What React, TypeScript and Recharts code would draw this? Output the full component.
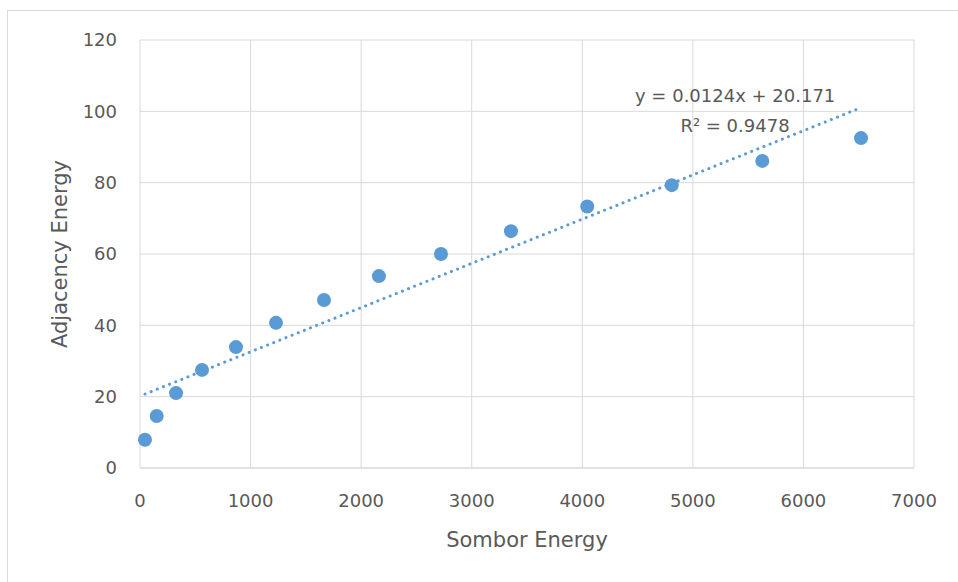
import React from "react";
import {
  ScatterChart,
  Scatter,
  XAxis,
  YAxis,
  CartesianGrid,
  Label,
} from "recharts";

const xValues = [45, 151, 326, 561, 868, 1230, 1664, 2161, 2722, 3355, 4045, 4809, 5628, 6521];
const yValues = [7.9, 14.6, 21.0, 27.5, 33.9, 40.7, 47.1, 53.8, 60.0, 66.4, 73.3, 79.3, 86.1, 92.5];
const xTicks = [0, 1000, 2000, 3000, 4000, 5000, 6000, 7000];
const yTicks = [0, 20, 40, 60, 80, 100, 120];
const slope = 0.0124;
const intercept = 20.171;
const equationText = "y = 0.0124x + 20.171";
const r2Text = "R² = 0.9478";
const xTitle = "Sombor Energy";
const yTitle = "Adjacency Energy";

const points = xValues.map((x, i) => ({ x, y: yValues[i] }));
const xMin = Math.min(...xValues);
const xMax = Math.max(...xValues);
const trend = [
  { x: xMin, y: slope * xMin + intercept },
  { x: xMax, y: slope * xMax + intercept },
];

const FONT = "'DejaVu Sans', sans-serif";
const TXT = "#595959";
const BLUE = "#5b9bd5";

const Dot = (props: any) => {
  const { cx, cy } = props;
  if (cx == null || cy == null) return null;
  return <circle cx={cx} cy={cy} r={7} fill={BLUE} />;
};

const XTitle = (props: any) => {
  const vb = props.viewBox || {};
  return (
    <text
      x={vb.x + vb.width / 2}
      y={vb.y + 79}
      textAnchor="middle"
      fill={TXT}
      fontSize={21}
      fontFamily={FONT}
    >
      {xTitle}
    </text>
  );
};

const YTitle = (props: any) => {
  const vb = props.viewBox || {};
  const cx = 60;
  const cy = vb.y + vb.height / 2;
  return (
    <text
      x={cx}
      y={cy}
      transform={`rotate(-90 ${cx} ${cy})`}
      textAnchor="middle"
      dominantBaseline="central"
      fill={TXT}
      fontSize={21}
      fontFamily={FONT}
    >
      {yTitle}
    </text>
  );
};

export default function App() {
  return (
    <div style={{ position: "absolute", left: 0, top: 0, width: 958, height: 582, background: "#fff" }}>
      <svg style={{ position: "absolute", left: 0, top: 0 }} width={958} height={582}>
        <rect x={7.5} y={10.5} width={1000} height={1000} fill="none" stroke="#d9d9d9" strokeWidth={1} />
      </svg>
      <div style={{ position: "absolute", left: 0, top: 0 }}>
        <ScatterChart
          width={958}
          height={582}
          margin={{ top: 40, right: 44, bottom: 54, left: 0 }}
          style={{ fontFamily: FONT }}
        >
          <CartesianGrid stroke="#d9d9d9" strokeWidth={1} />
          <XAxis
            type="number"
            dataKey="x"
            domain={[0, 7000]}
            ticks={xTicks}
            height={60}
            tickLine={false}
            axisLine={{ stroke: "#d9d9d9" }}
            tick={{ fill: TXT, fontSize: 18, fontFamily: FONT }}
            tickMargin={20}
          >
            <Label content={XTitle} />
          </XAxis>
          <YAxis
            type="number"
            dataKey="y"
            domain={[0, 120]}
            ticks={yTicks}
            width={140}
            tickLine={false}
            axisLine={false}
            tick={{ fill: TXT, fontSize: 18, fontFamily: FONT }}
            tickMargin={17}
          >
            <Label content={YTitle} />
          </YAxis>
          <Scatter
            data={trend}
            line={{ stroke: BLUE, strokeWidth: 3, strokeDasharray: "0.1 6.5", strokeLinecap: "round" }}
            shape={() => null}
            isAnimationActive={false}
          />
          <Scatter data={points} shape={Dot} isAnimationActive={false} />
        </ScatterChart>
      </div>
      <div
        style={{
          position: "absolute",
          left: 635,
          top: 81,
          width: 200,
          textAlign: "center",
          fontFamily: FONT,
          fontSize: 18,
          color: TXT,
          lineHeight: "30px",
          whiteSpace: "nowrap",
        }}
      >
        <div>{equationText}</div>
        <div>{r2Text}</div>
      </div>
    </div>
  );
}
